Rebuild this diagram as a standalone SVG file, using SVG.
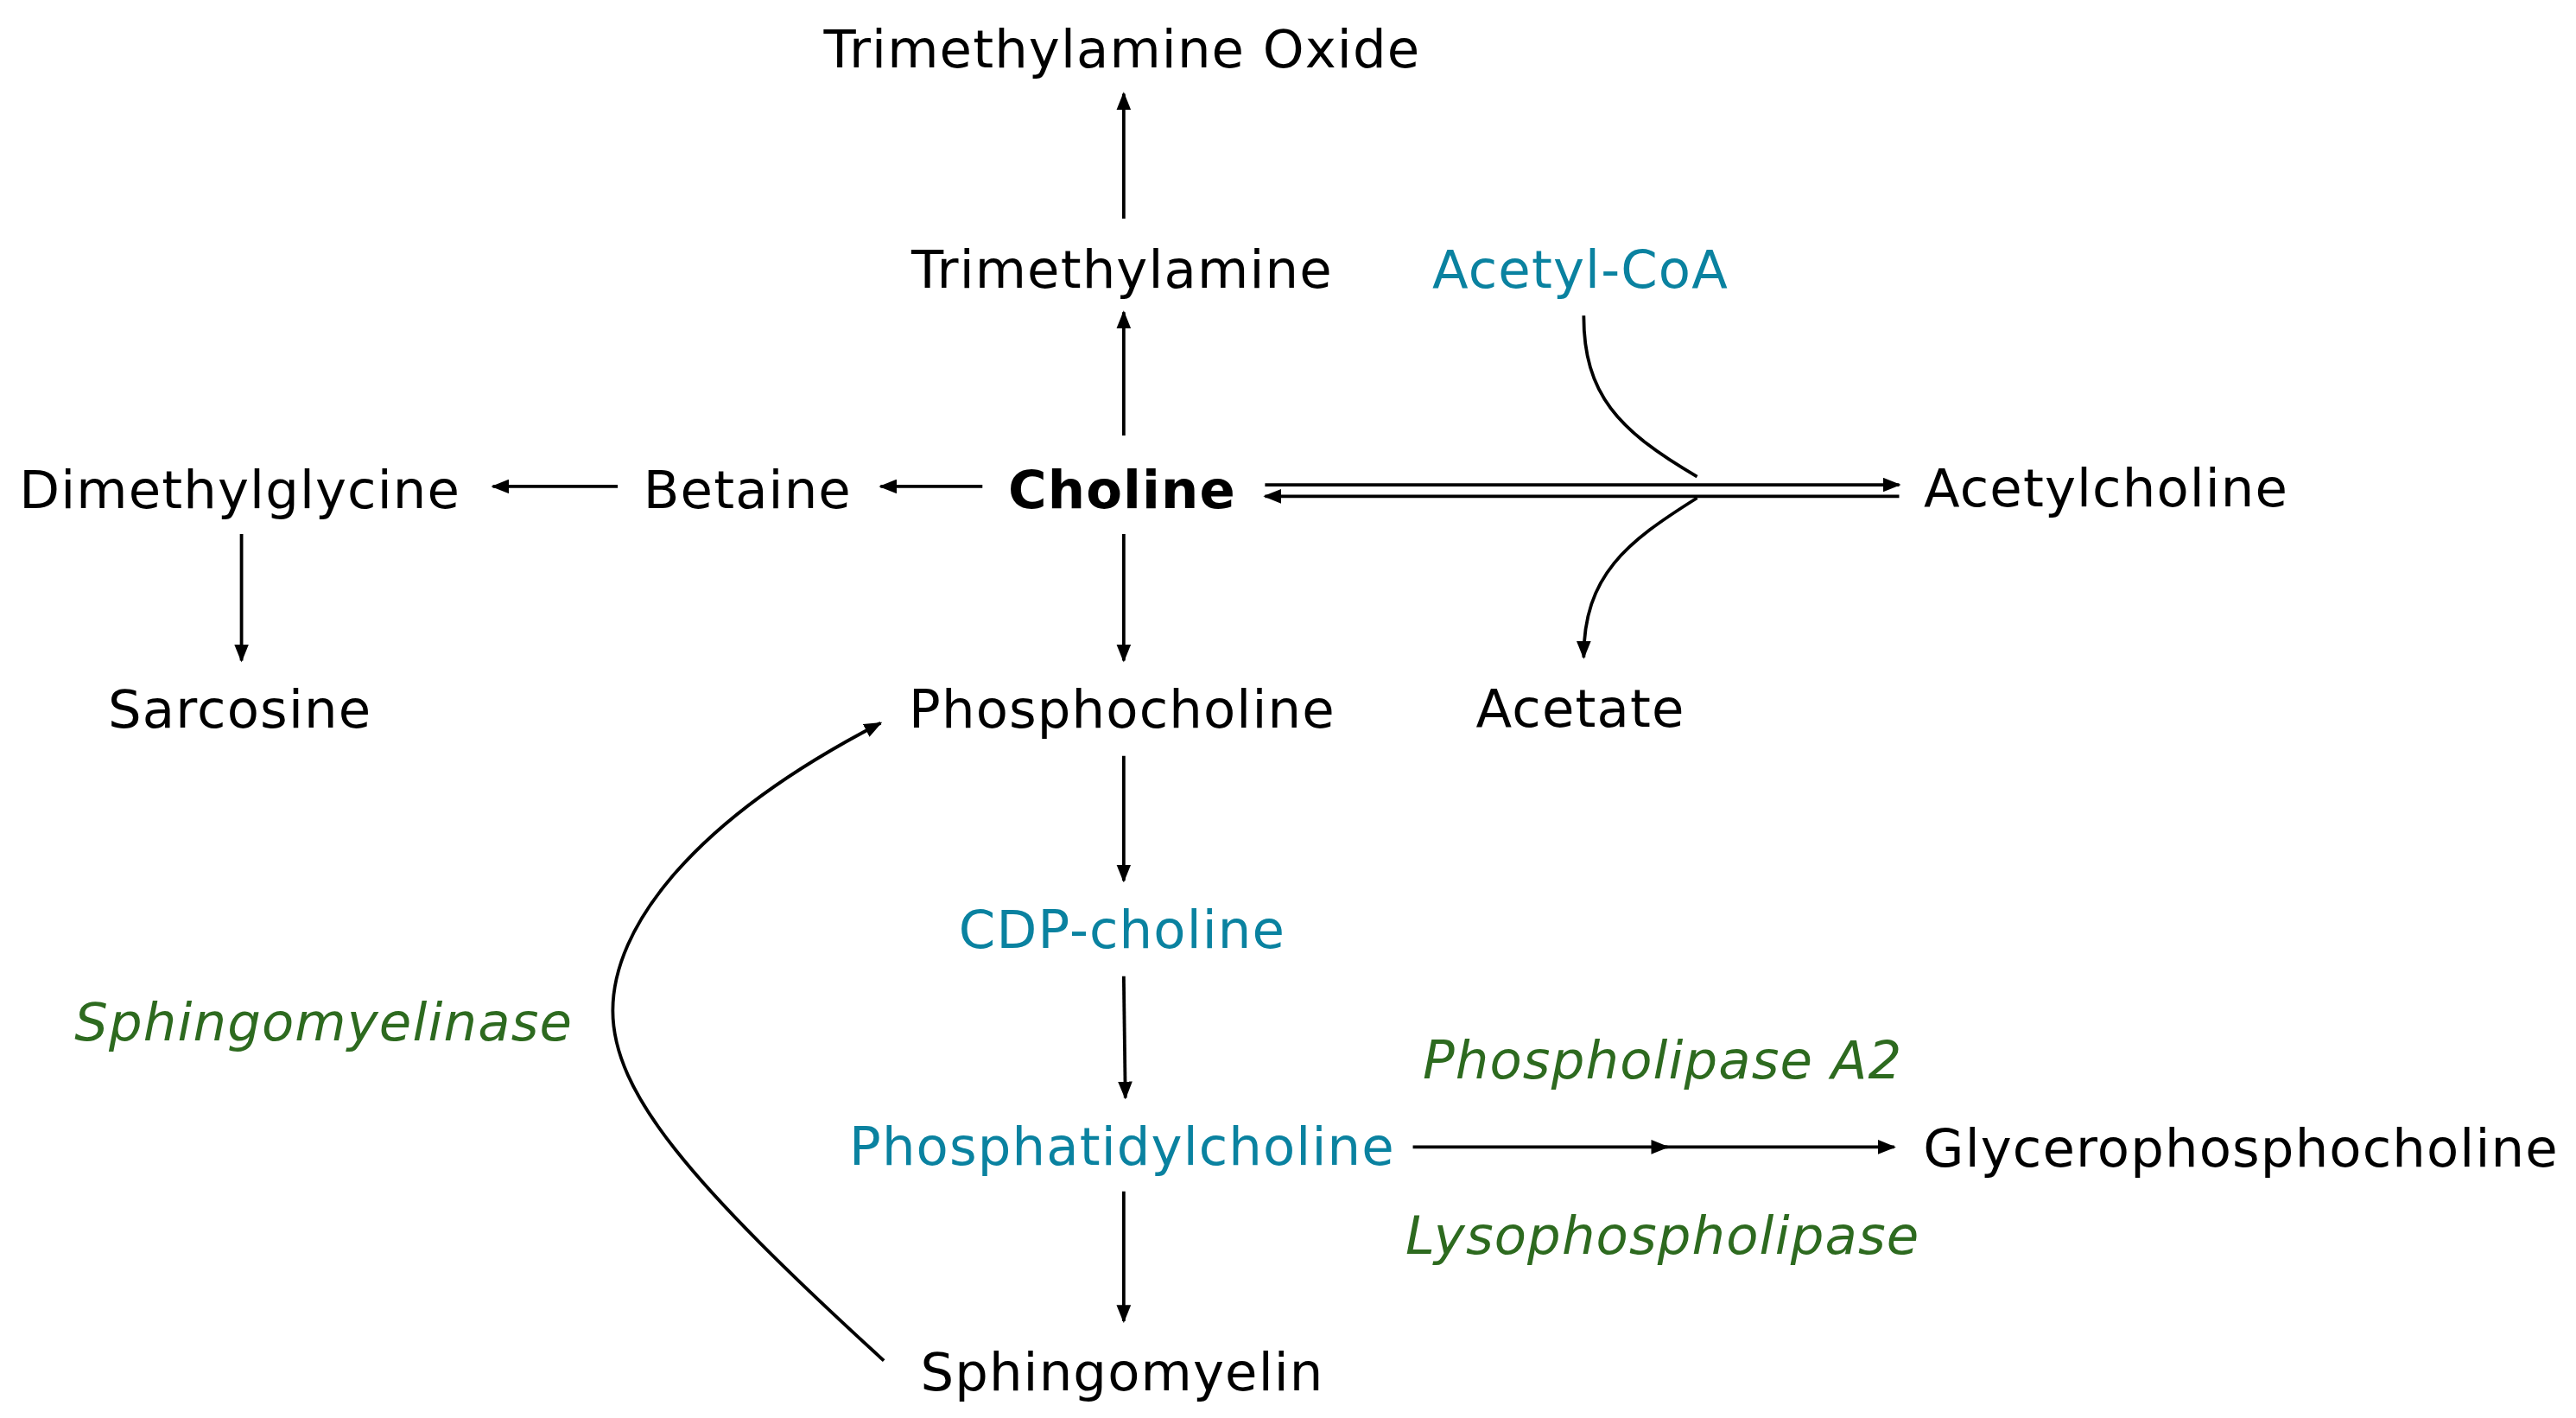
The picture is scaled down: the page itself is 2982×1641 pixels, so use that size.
<svg xmlns="http://www.w3.org/2000/svg" width="2982" height="1641" viewBox="0 0 2982 1641">
<style>
text{font-family:"DejaVu Sans","Liberation Sans",sans-serif;font-size:32px;letter-spacing:0.6px;text-anchor:middle;fill:#000}
.t{fill:#0a82a0}.e{fill:#2d6a1f;font-style:italic}.b{font-weight:bold}
.c path{fill:none;stroke:#000;stroke-width:2}
</style>
<defs><marker id="a" viewBox="0 0 10 8" refX="9" refY="4" markerWidth="5.5" markerHeight="4.4" orient="auto"><path d="M0,0L10,4L0,8Z" fill="#000"/></marker></defs>
<rect width="2982" height="1641" fill="#fff"/>
<g transform="scale(1.9018)">
<g id="tmao"><text x="683" y="41">Trimethylamine Oxide</text></g>
<g id="tma"><text x="683" y="175">Trimethylamine</text></g>
<g id="acoa"><text class="t" x="962" y="175">Acetyl-CoA</text></g>
<g id="dmg"><text x="146" y="309">Dimethylglycine</text></g>
<g id="betaine"><text x="455" y="309">Betaine</text></g>
<g id="choline"><text class="b" x="683" y="309">Choline</text></g>
<g id="ach"><text x="1282" y="308">Acetylcholine</text></g>
<g id="sarc"><text x="146" y="443">Sarcosine</text></g>
<g id="pcho"><text x="683" y="443">Phosphocholine</text></g>
<g id="acetate"><text x="962" y="442">Acetate</text></g>
<g id="cdp"><text class="t" x="683" y="577">CDP-choline</text></g>
<g id="smase"><text class="e" x="197" y="633">Sphingomyelinase</text></g>
<g id="pla2"><text class="e" x="1012" y="656">Phospholipase A2</text></g>
<g id="pc"><text class="t" x="683" y="709">Phosphatidylcholine</text></g>
<g id="gpc"><text x="1364" y="710">Glycerophosphocholine</text></g>
<g id="lyso"><text class="e" x="1012" y="763">Lysophospholipase</text></g>
<g id="sm"><text x="683" y="846">Sphingomyelin</text></g>
<g class="c" id="connectors">
<path d="M684,133V57" marker-end="url(#a)"/>
<path d="M684,265V190" marker-end="url(#a)"/>
<path d="M598,296H536" marker-end="url(#a)"/>
<path d="M376,296H300" marker-end="url(#a)"/>
<path d="M147,325V402" marker-end="url(#a)"/>
<path d="M684,325V402" marker-end="url(#a)"/>
<path d="M684,460V536" marker-end="url(#a)"/>
<path d="M684,594L685,668" marker-end="url(#a)"/>
<path d="M684,725V804" marker-end="url(#a)"/>
<path d="M860,698H1015" marker-end="url(#a)"/>
<path d="M1012,698H1153" marker-end="url(#a)"/>
<path d="M770,295H1156" marker-end="url(#a)"/>
<path d="M1156,302H770" marker-end="url(#a)"/>
<path d="M964,192C964,240 985,262 1033,290"/>
<path d="M1033,303C990,330 964,350 964,400" marker-end="url(#a)"/>
<path d="M538,828C420,720 373,665 373,615S420,500 536,440" marker-end="url(#a)"/>
</g>
</g>
</svg>
